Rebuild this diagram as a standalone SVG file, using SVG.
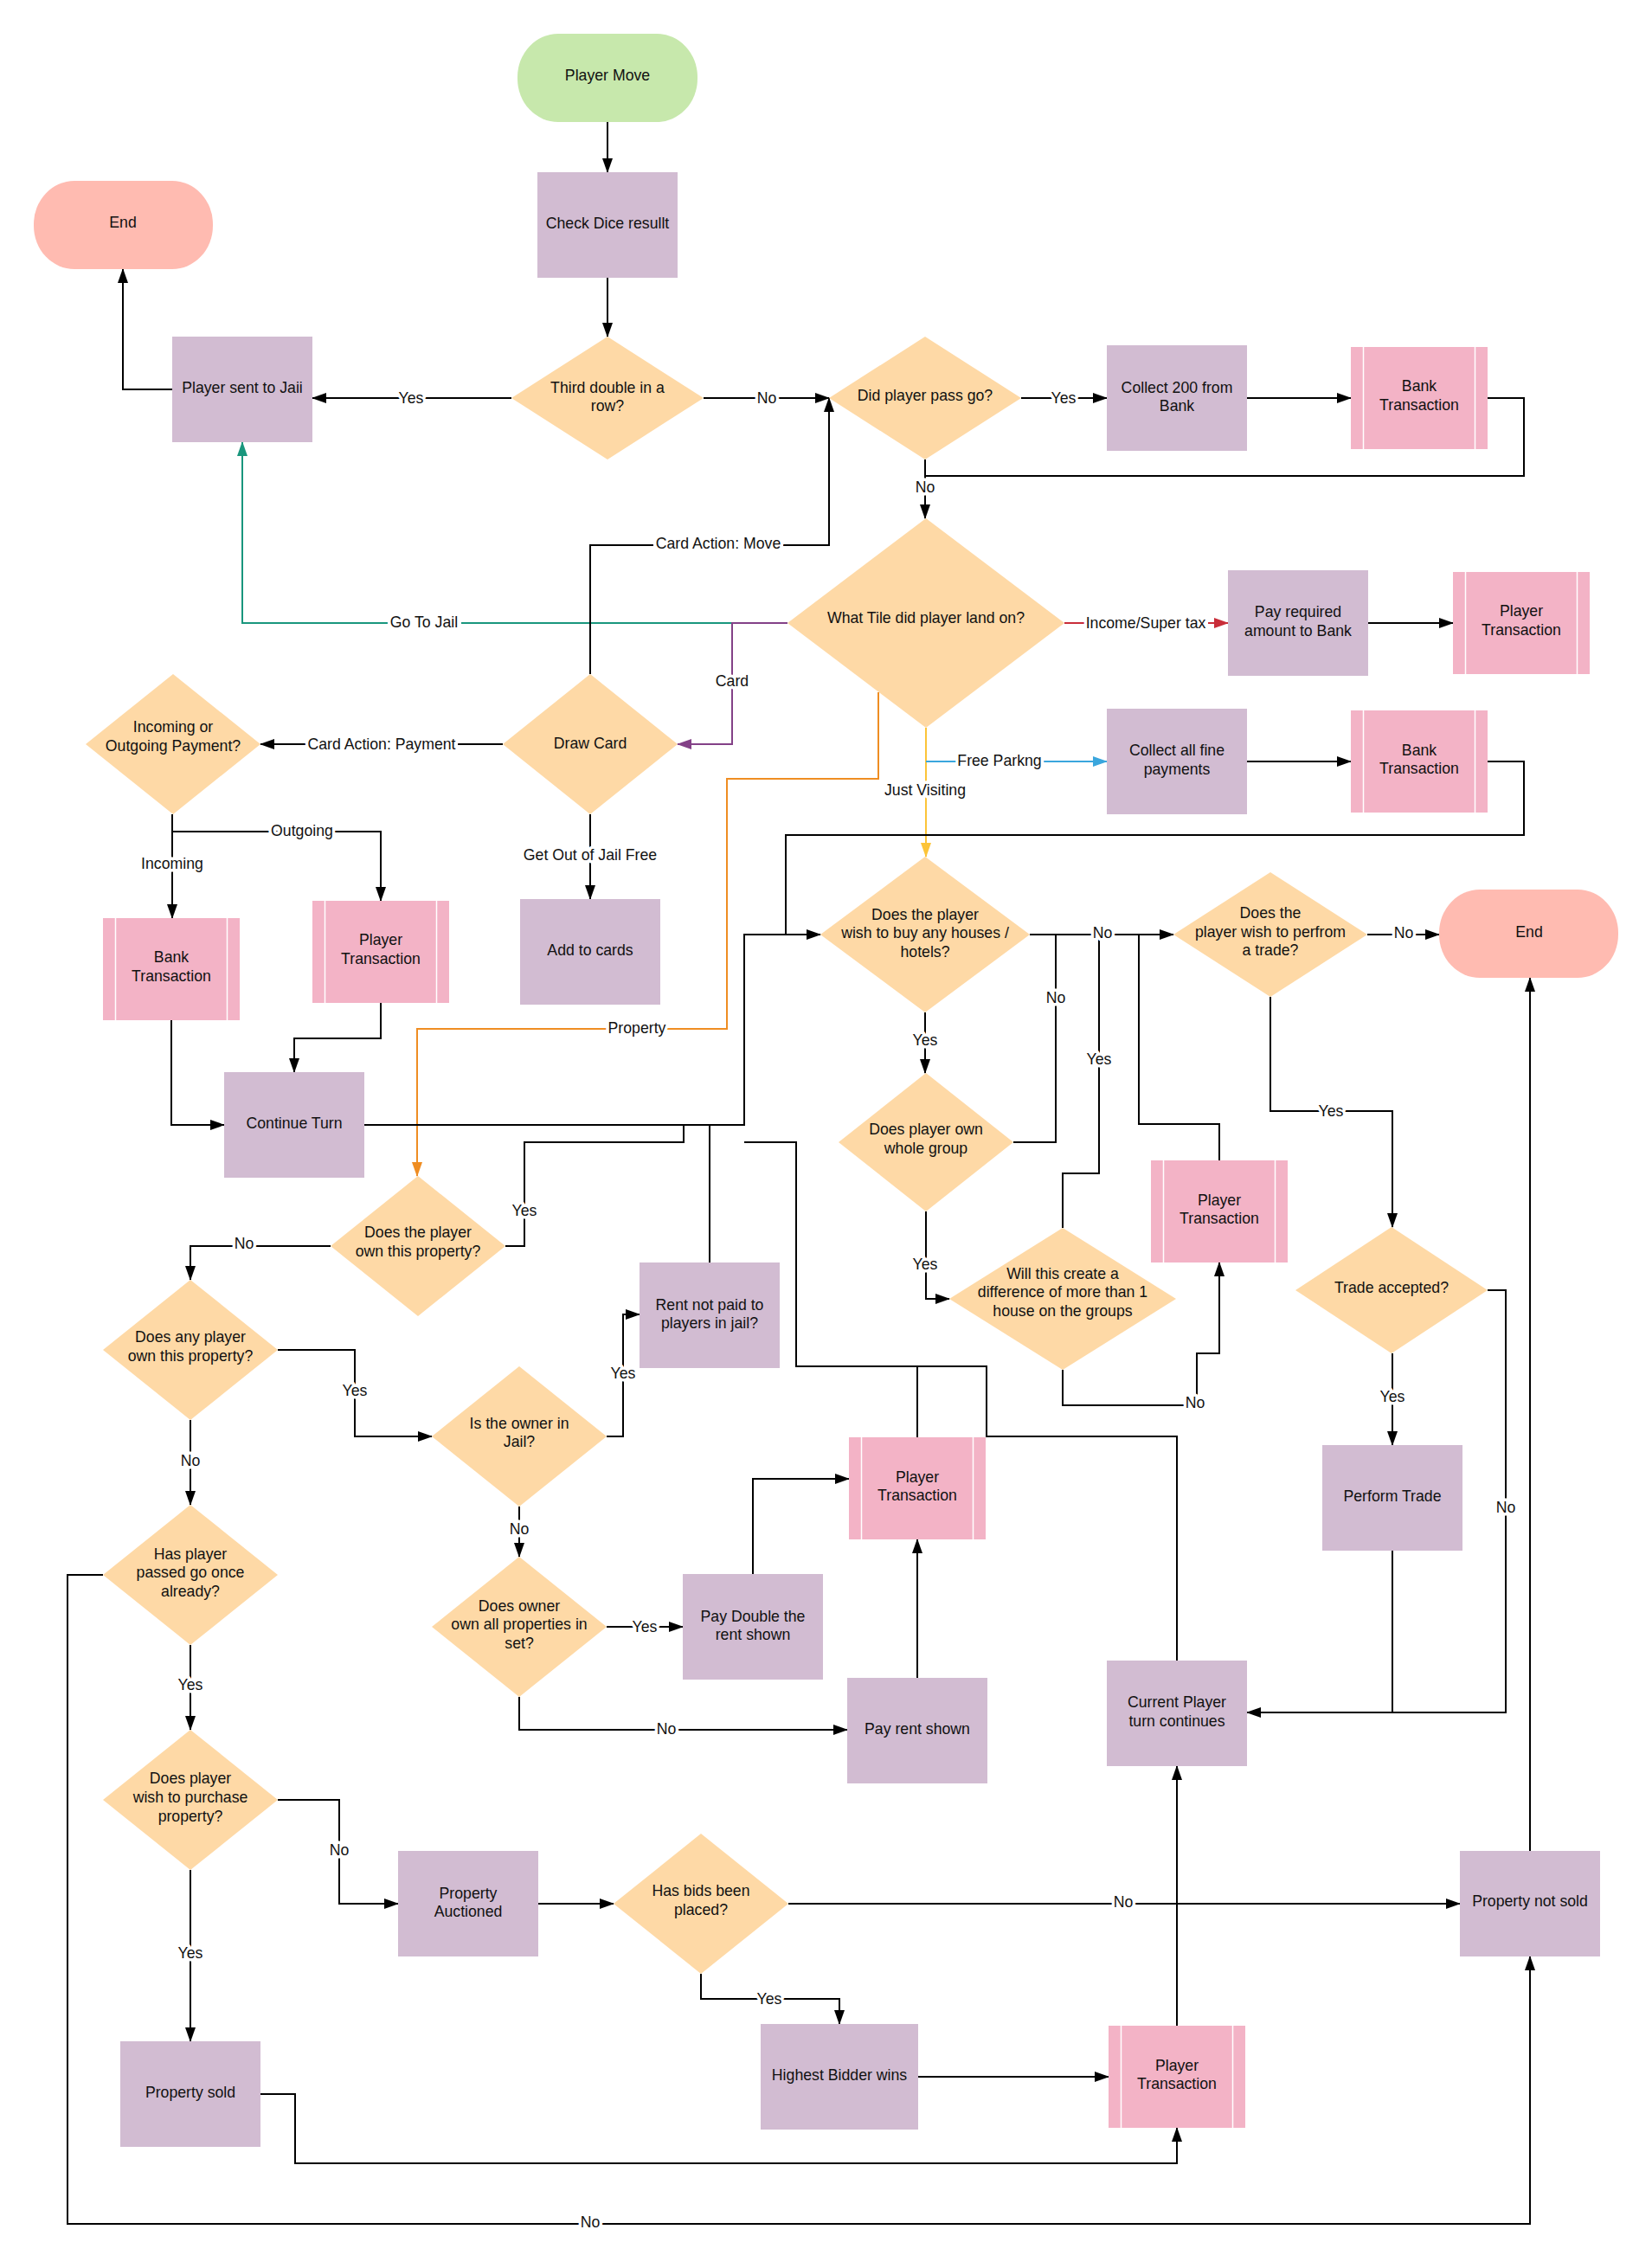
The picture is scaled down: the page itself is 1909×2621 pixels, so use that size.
<svg xmlns="http://www.w3.org/2000/svg" width="1909" height="2621" viewBox="0 0 1909 2621">
  <style>
    .proc { fill: #d2bcd2; }
    .dec { fill: #fed9a6; }
    .sub { fill: #f3b3c6; }
    .sl { stroke: #ffffff; stroke-width: 1.5; }
    .start { fill: #c7e8ac; }
    .stop { fill: #ffbbb1; }
    .t { font-family: "Liberation Sans", Arial, sans-serif; font-size: 17.7px; text-anchor: middle; fill: #111111; }
    .lbl { font-family: "Liberation Sans", Arial, sans-serif; font-size: 17.7px; text-anchor: middle; fill: #111111; stroke: #ffffff; stroke-width: 7; stroke-linejoin: round; paint-order: stroke; }
    .lbg { fill: #ffffff; }
    .e { fill: none; stroke: #000000; stroke-width: 2; }
    .ea { fill: none; stroke: #000000; stroke-width: 2; marker-end: url(#ah); }
  </style>
  <defs>
    <marker id="ah" markerUnits="userSpaceOnUse" viewBox="0 0 17 12" markerWidth="17" markerHeight="12" refX="16" refY="6" orient="auto"><path d="M0,0 L17,6 L0,12 z" fill="#000000"/></marker>
    <marker id="ah-teal" markerUnits="userSpaceOnUse" viewBox="0 0 17 12" markerWidth="17" markerHeight="12" refX="16" refY="6" orient="auto"><path d="M0,0 L17,6 L0,12 z" fill="#19967d"/></marker>
    <marker id="ah-purple" markerUnits="userSpaceOnUse" viewBox="0 0 17 12" markerWidth="17" markerHeight="12" refX="16" refY="6" orient="auto"><path d="M0,0 L17,6 L0,12 z" fill="#834187"/></marker>
    <marker id="ah-red" markerUnits="userSpaceOnUse" viewBox="0 0 17 12" markerWidth="17" markerHeight="12" refX="16" refY="6" orient="auto"><path d="M0,0 L17,6 L0,12 z" fill="#c92d39"/></marker>
    <marker id="ah-orange" markerUnits="userSpaceOnUse" viewBox="0 0 17 12" markerWidth="17" markerHeight="12" refX="16" refY="6" orient="auto"><path d="M0,0 L17,6 L0,12 z" fill="#ef8d22"/></marker>
    <marker id="ah-yellow" markerUnits="userSpaceOnUse" viewBox="0 0 17 12" markerWidth="17" markerHeight="12" refX="16" refY="6" orient="auto"><path d="M0,0 L17,6 L0,12 z" fill="#fcc438"/></marker>
    <marker id="ah-blue" markerUnits="userSpaceOnUse" viewBox="0 0 17 12" markerWidth="17" markerHeight="12" refX="16" refY="6" orient="auto"><path d="M0,0 L17,6 L0,12 z" fill="#3aa6dd"/></marker>
  </defs>

  <rect width="1909" height="2621" fill="#ffffff"/>

  <!-- connectors -->
  <g id="connectors">
    <!-- tile branches (coloured) -->
    <path d="M910,720 H280 V511" fill="none" stroke="#19967d" stroke-width="2" marker-end="url(#ah-teal)"/>
    <path d="M910,720 H846 V860 H783" fill="none" stroke="#834187" stroke-width="2" marker-end="url(#ah-purple)"/>
    <path d="M1230,720 H1419" fill="none" stroke="#c92d39" stroke-width="2" marker-end="url(#ah-red)"/>
    <path d="M1015,800 V900 H840 V1189 H482 V1359" fill="none" stroke="#ef8d22" stroke-width="2" marker-end="url(#ah-orange)"/>
    <path d="M1070,841 V990" fill="none" stroke="#fcc438" stroke-width="2" marker-end="url(#ah-yellow)"/>
    <path d="M1070,880 H1279" fill="none" stroke="#3aa6dd" stroke-width="2" marker-end="url(#ah-blue)"/>

    <!-- start of turn -->
    <path class="ea" d="M702,141 V199"/>
    <path class="ea" d="M702,321 V389"/>
    <path class="ea" d="M591,460 H361"/>
    <path class="ea" d="M813,460 H958"/>
    <path class="ea" d="M199,450 H142 V311"/>
    <path class="ea" d="M1180,460 H1279"/>
    <path class="ea" d="M1441,460 H1561"/>
    <path class="e" d="M1719,460 H1761 V550 H1069"/>
    <path class="ea" d="M1069,531 V599"/>
    <path class="ea" d="M682,779 V630 H958 V460"/>
    <path class="ea" d="M1581,720 H1679"/>
    <path class="ea" d="M1441,880 H1561"/>
    <path class="e" d="M1719,880 H1761 V965 H908 V1080"/>

    <!-- cards -->
    <path class="ea" d="M581,860 H301"/>
    <path class="ea" d="M682,941 V1039"/>
    <path class="ea" d="M199,941 V1061"/>
    <path class="ea" d="M199,961 H440 V1041"/>
    <path class="ea" d="M440,1159 V1200 H340 V1239"/>
    <path class="ea" d="M198,1179 V1300 H259"/>

    <!-- return to buying houses -->
    <path class="ea" d="M421,1300 H860 V1080 H948"/>
    <path class="e" d="M584,1440 H606 V1320 H790 V1300"/>
    <path class="e" d="M820,1459 V1300"/>
    <path class="e" d="M1060,1661 V1579"/>
    <path class="e" d="M1360,1919 V1660 H1140 V1579 H920 V1320 H860"/>

    <!-- houses and trading -->
    <path class="ea" d="M1190,1080 H1356"/>
    <path class="e" d="M1171,1320 H1220 V1080"/>
    <path class="e" d="M1228,1419 V1356 H1270 V1080"/>
    <path class="e" d="M1409,1341 V1299 H1316 V1080"/>
    <path class="ea" d="M1069,1170 V1240"/>
    <path class="ea" d="M1070,1400 V1501 H1097"/>
    <path class="ea" d="M1228,1583 V1624 H1383 V1564 H1409 V1459"/>
    <path class="ea" d="M1580,1080 H1663"/>
    <path class="ea" d="M1468,1152 V1284 H1609 V1418"/>
    <path class="ea" d="M1609,1564 V1670"/>
    <path class="ea" d="M1719,1491 H1740 V1979 H1441"/>
    <path class="e" d="M1609,1792 V1979"/>

    <!-- property -->
    <path class="ea" d="M382,1440 H220 V1479"/>
    <path class="ea" d="M321,1560 H410 V1660 H499"/>
    <path class="ea" d="M220,1641 V1739"/>
    <path class="ea" d="M701,1660 H720 V1519 H739"/>
    <path class="ea" d="M600,1741 V1799"/>
    <path class="ea" d="M701,1880 H789"/>
    <path class="ea" d="M600,1961 V1999 H979"/>
    <path class="ea" d="M870,1819 V1709 H981"/>
    <path class="ea" d="M1060,1939 V1779"/>
    <path class="ea" d="M220,1901 V1999"/>
    <path class="ea" d="M119,1820 H78 V2570 H1768 V2261"/>
    <path class="ea" d="M321,2080 H392 V2200 H460"/>
    <path class="ea" d="M220,2161 V2359"/>
    <path class="ea" d="M622,2200 H709"/>
    <path class="ea" d="M911,2200 H1687"/>
    <path class="ea" d="M810,2281 V2310 H970 V2339"/>
    <path class="ea" d="M1061,2400 H1281"/>
    <path class="ea" d="M301,2420 H341 V2500 H1360 V2459"/>
    <path class="ea" d="M1360,2341 V2041"/>
    <path class="ea" d="M1768,2139 V1130"/>

    <!-- connector labels -->
    <g id="connector-labels">
      <!-- white backing for multi-word labels on horizontal runs -->
      <rect class="lbg" x="755" y="625" width="150" height="10"/>
      <rect class="lbg" x="448" y="715" width="85" height="10"/>
      <rect class="lbg" x="353" y="855" width="176" height="10"/>
      <rect class="lbg" x="1253" y="715" width="143" height="10"/>
      <rect class="lbg" x="1105" y="875" width="101" height="10"/>
      <text class="lbl" x="475" y="466">Yes</text>
      <text class="lbl" x="886" y="466">No</text>
      <text class="lbl" x="1229" y="466">Yes</text>
      <text class="lbl" x="1069" y="569">No</text>
      <text class="lbl" x="830" y="634">Card Action: Move</text>
      <text class="lbl" x="490" y="725">Go To Jail</text>
      <text class="lbl" x="846" y="793">Card</text>
      <text class="lbl" x="1324" y="726">Income/Super tax</text>
      <text class="lbl" x="736" y="1194">Property</text>
      <text class="lbl" x="1069" y="919">Just Visiting</text>
      <text class="lbl" x="1155" y="885">Free Parkng</text>
      <text class="lbl" x="441" y="866">Card Action: Payment</text>
      <text class="lbl" x="682" y="994">Get Out of Jail Free</text>
      <text class="lbl" x="349" y="966">Outgoing</text>
      <text class="lbl" x="199" y="1004">Incoming</text>
      <text class="lbl" x="606" y="1405">Yes</text>
      <text class="lbl" x="1274" y="1084">No</text>
      <text class="lbl" x="1220" y="1159">No</text>
      <text class="lbl" x="1270" y="1230">Yes</text>
      <text class="lbl" x="1069" y="1208">Yes</text>
      <text class="lbl" x="1069" y="1467">Yes</text>
      <text class="lbl" x="1381" y="1627">No</text>
      <text class="lbl" x="1622" y="1084">No</text>
      <text class="lbl" x="1538" y="1290">Yes</text>
      <text class="lbl" x="1609" y="1620">Yes</text>
      <text class="lbl" x="1740" y="1748">No</text>
      <text class="lbl" x="282" y="1443">No</text>
      <text class="lbl" x="410" y="1613">Yes</text>
      <text class="lbl" x="220" y="1694">No</text>
      <text class="lbl" x="720" y="1593">Yes</text>
      <text class="lbl" x="600" y="1773">No</text>
      <text class="lbl" x="745" y="1886">Yes</text>
      <text class="lbl" x="770" y="2004">No</text>
      <text class="lbl" x="220" y="1953">Yes</text>
      <text class="lbl" x="682" y="2574">No</text>
      <text class="lbl" x="392" y="2144">No</text>
      <text class="lbl" x="220" y="2263">Yes</text>
      <text class="lbl" x="1298" y="2204">No</text>
      <text class="lbl" x="889" y="2316">Yes</text>
    </g>
  </g>

  <!-- nodes -->
  <g id="player-move">
    <rect class="start" x="598" y="39" width="208" height="102" rx="47" ry="50"/>
    <text class="t" x="702" y="93">Player Move</text>
  </g>
  <g id="check-dice">
    <rect class="proc" x="621" y="199" width="162" height="122"/>
    <text class="t" x="702" y="264">Check Dice resullt</text>
  </g>
  <g id="third-double">
    <polygon class="dec" points="702,389 813,460 702,531 591,460"/>
    <text class="t"><tspan x="702" y="454">Third double in a</tspan><tspan x="702" y="475">row?</tspan></text>
  </g>
  <g id="pass-go">
    <polygon class="dec" points="1069,389 1180,460 1069,531 958,460"/>
    <text class="t" x="1069" y="463">Did player pass go?</text>
  </g>
  <g id="sent-to-jail">
    <rect class="proc" x="199" y="389" width="162" height="122"/>
    <text class="t" x="280" y="454">Player sent to Jaii</text>
  </g>
  <g id="end-jail">
    <rect class="stop" x="39" y="209" width="207" height="102" rx="47" ry="50"/>
    <text class="t" x="142" y="263">End</text>
  </g>
  <g id="collect-200">
    <rect class="proc" x="1279" y="399" width="162" height="122"/>
    <text class="t"><tspan x="1360" y="454">Collect 200 from</tspan><tspan x="1360" y="475">Bank</tspan></text>
  </g>
  <g id="bank-transaction-go">
    <rect class="sub" x="1561" y="401" width="158" height="118"/>
    <line class="sl" x1="1575.5" y1="401" x2="1575.5" y2="519"/>
    <line class="sl" x1="1704.5" y1="401" x2="1704.5" y2="519"/>
    <text class="t"><tspan x="1640" y="452">Bank</tspan><tspan x="1640" y="474">Transaction</tspan></text>
  </g>
  <g id="tile">
    <polygon class="dec" points="1070,599 1230,720 1070,841 910,720"/>
    <text class="t" x="1070" y="720">What Tile did player land on?</text>
  </g>
  <g id="pay-tax">
    <rect class="proc" x="1419" y="659" width="162" height="122"/>
    <text class="t"><tspan x="1500" y="713">Pay required</tspan><tspan x="1500" y="735">amount to Bank</tspan></text>
  </g>
  <g id="player-transaction-tax">
    <rect class="sub" x="1679" y="661" width="158" height="118"/>
    <line class="sl" x1="1693.5" y1="661" x2="1693.5" y2="779"/>
    <line class="sl" x1="1822.5" y1="661" x2="1822.5" y2="779"/>
    <text class="t"><tspan x="1758" y="712">Player</tspan><tspan x="1758" y="734">Transaction</tspan></text>
  </g>
  <g id="draw-card">
    <polygon class="dec" points="682,779 783,860 682,941 581,860"/>
    <text class="t" x="682" y="865">Draw Card</text>
  </g>
  <g id="payment-direction">
    <polygon class="dec" points="200,779 301,860 200,941 99,860"/>
    <text class="t"><tspan x="200" y="846">Incoming or</tspan><tspan x="200" y="868">Outgoing Payment?</tspan></text>
  </g>
  <g id="bank-transaction-card">
    <rect class="sub" x="119" y="1061" width="158" height="118"/>
    <line class="sl" x1="133.5" y1="1061" x2="133.5" y2="1179"/>
    <line class="sl" x1="262.5" y1="1061" x2="262.5" y2="1179"/>
    <text class="t"><tspan x="198" y="1112">Bank</tspan><tspan x="198" y="1134">Transaction</tspan></text>
  </g>
  <g id="player-transaction-card">
    <rect class="sub" x="361" y="1041" width="158" height="118"/>
    <line class="sl" x1="375.5" y1="1041" x2="375.5" y2="1159"/>
    <line class="sl" x1="504.5" y1="1041" x2="504.5" y2="1159"/>
    <text class="t"><tspan x="440" y="1092">Player</tspan><tspan x="440" y="1114">Transaction</tspan></text>
  </g>
  <g id="add-to-cards">
    <rect class="proc" x="601" y="1039" width="162" height="122"/>
    <text class="t" x="682" y="1104">Add to cards</text>
  </g>
  <g id="continue-turn">
    <rect class="proc" x="259" y="1239" width="162" height="122"/>
    <text class="t" x="340" y="1304">Continue Turn</text>
  </g>
  <g id="collect-fines">
    <rect class="proc" x="1279" y="819" width="162" height="122"/>
    <text class="t"><tspan x="1360" y="873">Collect all fine</tspan><tspan x="1360" y="895">payments</tspan></text>
  </g>
  <g id="bank-transaction-parking">
    <rect class="sub" x="1561" y="821" width="158" height="118"/>
    <line class="sl" x1="1575.5" y1="821" x2="1575.5" y2="939"/>
    <line class="sl" x1="1704.5" y1="821" x2="1704.5" y2="939"/>
    <text class="t"><tspan x="1640" y="873">Bank</tspan><tspan x="1640" y="894">Transaction</tspan></text>
  </g>
  <g id="buy-houses">
    <polygon class="dec" points="1069,990 1190,1080 1069,1170 948,1080"/>
    <text class="t"><tspan x="1069" y="1063">Does the player</tspan><tspan x="1069" y="1084">wish to buy any houses /</tspan><tspan x="1069" y="1106">hotels?</tspan></text>
  </g>
  <g id="trade-wish">
    <polygon class="dec" points="1468,1008 1580,1080 1468,1152 1356,1080"/>
    <text class="t"><tspan x="1468" y="1061">Does the</tspan><tspan x="1468" y="1083">player wish to perfrom</tspan><tspan x="1468" y="1104">a trade?</tspan></text>
  </g>
  <g id="end-turn">
    <rect class="stop" x="1663" y="1028" width="207" height="102" rx="47" ry="50"/>
    <text class="t" x="1767" y="1083">End</text>
  </g>
  <g id="whole-group">
    <polygon class="dec" points="1070,1240 1171,1320 1070,1400 969,1320"/>
    <text class="t"><tspan x="1070" y="1311">Does player own</tspan><tspan x="1070" y="1333">whole group</tspan></text>
  </g>
  <g id="house-difference">
    <polygon class="dec" points="1228,1419 1359,1501 1228,1583 1097,1501"/>
    <text class="t"><tspan x="1228" y="1478">Will this create a</tspan><tspan x="1228" y="1499">difference of more than 1</tspan><tspan x="1228" y="1521">house on the groups</tspan></text>
  </g>
  <g id="player-transaction-houses">
    <rect class="sub" x="1330" y="1341" width="158" height="118"/>
    <line class="sl" x1="1344.5" y1="1341" x2="1344.5" y2="1459"/>
    <line class="sl" x1="1473.5" y1="1341" x2="1473.5" y2="1459"/>
    <text class="t"><tspan x="1409" y="1393">Player</tspan><tspan x="1409" y="1414">Transaction</tspan></text>
  </g>
  <g id="trade-accepted">
    <polygon class="dec" points="1608,1418 1719,1491 1608,1564 1497,1491"/>
    <text class="t" x="1608" y="1494">Trade accepted?</text>
  </g>
  <g id="perform-trade">
    <rect class="proc" x="1528" y="1670" width="162" height="122"/>
    <text class="t" x="1609" y="1735">Perform Trade</text>
  </g>
  <g id="own-property">
    <polygon class="dec" points="483,1359 584,1440 483,1521 382,1440"/>
    <text class="t"><tspan x="483" y="1430">Does the player</tspan><tspan x="483" y="1452">own this property?</tspan></text>
  </g>
  <g id="any-owner">
    <polygon class="dec" points="220,1479 321,1560 220,1641 119,1560"/>
    <text class="t"><tspan x="220" y="1551">Does any player</tspan><tspan x="220" y="1573">own this property?</tspan></text>
  </g>
  <g id="owner-in-jail">
    <polygon class="dec" points="600,1579 701,1660 600,1741 499,1660"/>
    <text class="t"><tspan x="600" y="1651">Is the owner in</tspan><tspan x="600" y="1672">Jail?</tspan></text>
  </g>
  <g id="rent-not-paid">
    <rect class="proc" x="739" y="1459" width="162" height="122"/>
    <text class="t"><tspan x="820" y="1514">Rent not paid to</tspan><tspan x="820" y="1535">players in jail?</tspan></text>
  </g>
  <g id="owner-full-set">
    <polygon class="dec" points="600,1799 701,1880 600,1961 499,1880"/>
    <text class="t"><tspan x="600" y="1862">Does owner</tspan><tspan x="600" y="1883">own all properties in</tspan><tspan x="600" y="1905">set?</tspan></text>
  </g>
  <g id="pay-double">
    <rect class="proc" x="789" y="1819" width="162" height="122"/>
    <text class="t"><tspan x="870" y="1874">Pay Double the</tspan><tspan x="870" y="1895">rent shown</tspan></text>
  </g>
  <g id="player-transaction-rent">
    <rect class="sub" x="981" y="1661" width="158" height="118"/>
    <line class="sl" x1="995.5" y1="1661" x2="995.5" y2="1779"/>
    <line class="sl" x1="1124.5" y1="1661" x2="1124.5" y2="1779"/>
    <text class="t"><tspan x="1060" y="1713">Player</tspan><tspan x="1060" y="1734">Transaction</tspan></text>
  </g>
  <g id="pay-rent">
    <rect class="proc" x="979" y="1939" width="162" height="122"/>
    <text class="t" x="1060" y="2004">Pay rent shown</text>
  </g>
  <g id="turn-continues">
    <rect class="proc" x="1279" y="1919" width="162" height="122"/>
    <text class="t"><tspan x="1360" y="1973">Current Player</tspan><tspan x="1360" y="1995">turn continues</tspan></text>
  </g>
  <g id="passed-go">
    <polygon class="dec" points="220,1739 321,1820 220,1901 119,1820"/>
    <text class="t"><tspan x="220" y="1802">Has player</tspan><tspan x="220" y="1823">passed go once</tspan><tspan x="220" y="1845">already?</tspan></text>
  </g>
  <g id="wish-purchase">
    <polygon class="dec" points="220,1999 321,2080 220,2161 119,2080"/>
    <text class="t"><tspan x="220" y="2061">Does player</tspan><tspan x="220" y="2083">wish to purchase</tspan><tspan x="220" y="2105">property?</tspan></text>
  </g>
  <g id="auctioned">
    <rect class="proc" x="460" y="2139" width="162" height="122"/>
    <text class="t"><tspan x="541" y="2194">Property</tspan><tspan x="541" y="2215">Auctioned</tspan></text>
  </g>
  <g id="bids-placed">
    <polygon class="dec" points="810,2119 911,2200 810,2281 709,2200"/>
    <text class="t"><tspan x="810" y="2191">Has bids been</tspan><tspan x="810" y="2213">placed?</tspan></text>
  </g>
  <g id="not-sold">
    <rect class="proc" x="1687" y="2139" width="162" height="122"/>
    <text class="t" x="1768" y="2203">Property not sold</text>
  </g>
  <g id="highest-bidder">
    <rect class="proc" x="879" y="2339" width="182" height="122"/>
    <text class="t" x="970" y="2404">Highest Bidder wins</text>
  </g>
  <g id="property-sold">
    <rect class="proc" x="139" y="2359" width="162" height="122"/>
    <text class="t" x="220" y="2424">Property sold</text>
  </g>
  <g id="player-transaction-sale">
    <rect class="sub" x="1281" y="2341" width="158" height="118"/>
    <line class="sl" x1="1295.5" y1="2341" x2="1295.5" y2="2459"/>
    <line class="sl" x1="1424.5" y1="2341" x2="1424.5" y2="2459"/>
    <text class="t"><tspan x="1360" y="2393">Player</tspan><tspan x="1360" y="2414">Transaction</tspan></text>
  </g>
</svg>
